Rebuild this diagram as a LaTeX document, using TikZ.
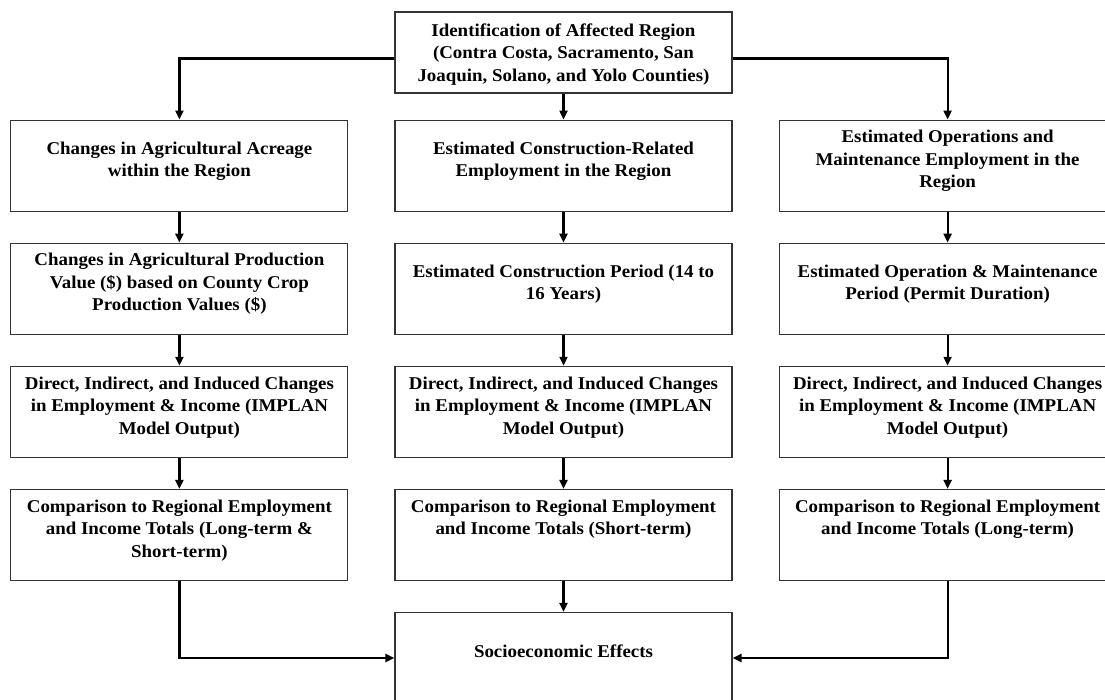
\documentclass[tikz,border=0pt]{standalone}
\usepackage{fontspec}
\setmainfont{Liberation Serif}[FakeStretch=1.05]
\usetikzlibrary{arrows.meta, positioning}

\begin{document}
\begin{tikzpicture}[
            x=1pt, y=-1pt,
            node distance=31pt and 46pt,
            >={Triangle[length=9pt,width=8pt]},
            % Estilo das caixas
            block/.style={
                draw=black!80,
                fill=white,
                rectangle,
                minimum width=337pt,
                minimum height=91pt,
                inner sep=4pt,
                line width=1.1pt,
                align=center,
                font=\fontsize{18}{22.5}\selectfont\bfseries,
                text depth=13pt
            },
            % Caixa com texto junto ao topo
            topblock/.style={
                block,
                text depth=35.5pt
            },
            % Estilo das setas
            signal/.style={
                draw=black,
                ->,
                line width=2.2pt
            }
        ]
            \useasboundingbox (0,0) rectangle (1105,700);

            % Caixa de topo
            \node [block, minimum height=81pt, text depth=0pt] (region) at (563.5,52.5)
                {Identification of Affected Region\\(Contra Costa, Sacramento, San\\Joaquin, Solano, and Yolo Counties)};

            % Coluna central
            \node [block, below=26pt of region] (constemp)
                {Estimated Construction-Related\\Employment in the Region};
            \node [block, below=of constemp] (constperiod)
                {Estimated Construction Period (14 to\\16 Years)};
            \node [block, below=of constperiod] (constimplan)
                {Direct, Indirect, and Induced Changes\\in Employment \& Income (IMPLAN\\Model Output)};
            \node [topblock, below=of constimplan] (constcomp)
                {Comparison to Regional Employment\\and Income Totals (Short-term)};
            \node [block, below=of constcomp] (effects)
                {Socioeconomic Effects};

            % Coluna da esquerda
            \node [block, left=of constemp] (agacreage)
                {Changes in Agricultural Acreage\\within the Region};
            \node [block, left=of constperiod] (agvalue)
                {Changes in Agricultural Production\\Value (\$) based on County Crop\\Production Values (\$)};
            \node [block, left=of constimplan] (agimplan)
                {Direct, Indirect, and Induced Changes\\in Employment \& Income (IMPLAN\\Model Output)};
            \node [block, left=of constcomp] (agcomp)
                {Comparison to Regional Employment\\and Income Totals (Long-term \&\\Short-term)};

            % Coluna da direita
            \node [block, right=of constemp] (omemp)
                {Estimated Operations and\\Maintenance Employment in the\\Region};
            \node [block, right=of constperiod] (omperiod)
                {Estimated Operation \& Maintenance\\Period (Permit Duration)};
            \node [block, right=of constimplan] (omimplan)
                {Direct, Indirect, and Induced Changes\\in Employment \& Income (IMPLAN\\Model Output)};
            \node [topblock, right=of constcomp] (omcomp)
                {Comparison to Regional Employment\\and Income Totals (Long-term)};

            % Setas a partir do topo
            \draw [signal] ([yshift=-6pt]region.west) -| (agacreage.north);
            \draw [signal] ([yshift=-6pt]region.east) -| (omemp.north);
            \draw [signal] (region) -- (constemp);

            % Setas dentro das colunas
            \draw [signal] (agacreage) -- (agvalue);
            \draw [signal] (agvalue) -- (agimplan);
            \draw [signal] (agimplan) -- (agcomp);
            \draw [signal] (constemp) -- (constperiod);
            \draw [signal] (constperiod) -- (constimplan);
            \draw [signal] (constimplan) -- (constcomp);
            \draw [signal] (constcomp) -- (effects);
            \draw [signal] (omemp) -- (omperiod);
            \draw [signal] (omperiod) -- (omimplan);
            \draw [signal] (omimplan) -- (omcomp);

            % Setas para o resultado final
            \draw [signal] (agcomp.south) |- (effects.west);
            \draw [signal] (omcomp.south) |- (effects.east);

        \end{tikzpicture}
\end{document}
